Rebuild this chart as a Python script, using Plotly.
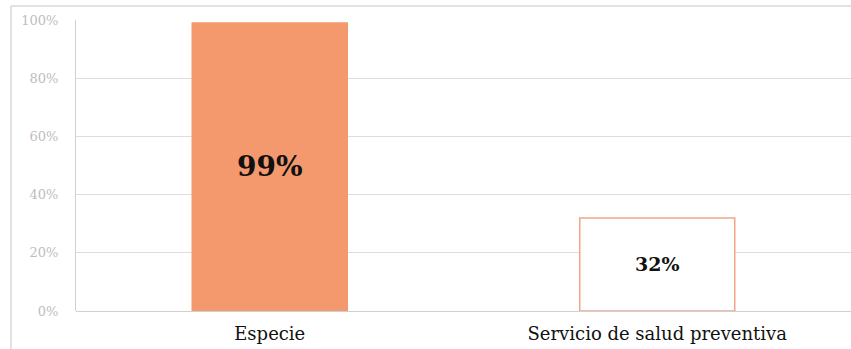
import plotly.graph_objects as go

categories = ["Especie", "Servicio de salud preventiva"]
values = [0.99, 0.32]
labels = ["<b>99%</b>", "<b>32%</b>"]

fill_colors = ["#F4996E", "#FFFFFF"]
line_colors = ["#F4996E", "#F2A585"]

fig = go.Figure()
fig.add_trace(go.Bar(
    x=categories, y=values, text=labels, textposition="inside",
    insidetextanchor="middle", textangle=0,
    textfont=dict(family="DejaVu Serif", size=[28, 19], color="#111111"),
    marker=dict(color=fill_colors, line=dict(color=line_colors, width=1.5)),
    width=0.4, hoverinfo="skip",
))

fig.update_layout(
    width=851, height=349,
    margin=dict(l=76, r=0, t=20, b=38),
    paper_bgcolor="white", plot_bgcolor="white",
    showlegend=False,
    xaxis=dict(range=[-0.5, 1.5], showgrid=False, ticks="", showline=False,
               tickfont=dict(family="DejaVu Serif", size=18, color="#111111"),
               ticklabelstandoff=10),
    yaxis=dict(range=[0, 1], tickvals=[0, 0.2, 0.4, 0.6, 0.8, 1.0],
               tickformat=".0%", showgrid=True, gridcolor="#DDDDDD", gridwidth=1,
               zeroline=True, zerolinecolor="#D0D0D0", zerolinewidth=1,
               showline=True, linecolor="#D0D0D0", linewidth=1,
               tickfont=dict(family="DejaVu Serif", size=13, color="#BDBDBD"),
               ticklabelstandoff=14),
    shapes=[
        dict(type="line", xref="paper", yref="paper", x0=-0.0839, x1=1.01,
             y0=1.048, y1=1.048, line=dict(color="#D9D9D9", width=1.5)),
        dict(type="line", xref="paper", yref="paper", x0=-0.0839, x1=-0.0839,
             y0=1.048, y1=-0.2, line=dict(color="#D9D9D9", width=1.5)),
    ],
)

fig.write_html("out.html", config={"displayModeBar": False},
               post_script="document.body.style.margin='0';document.body.style.overflow='hidden';")
